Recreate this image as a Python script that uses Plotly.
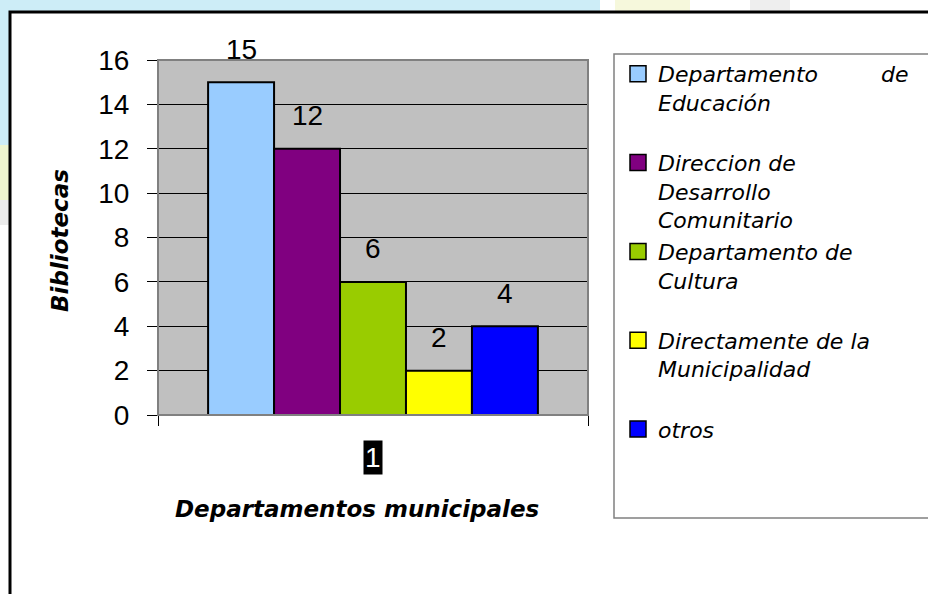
import plotly.graph_objects as go

categories = ["1"]
series_names = [
    "Departamento\u00a0\u00a0\u00a0\u00a0\u00a0\u00a0\u00a0\u00a0\u00a0de<br>Educación<br>\u00a0",
    "Direccion de<br>Desarrollo<br>Comunitario",
    "Departamento de<br>Cultura<br>\u00a0",
    "Directamente de la<br>Municipalidad<br>\u00a0",
    "otros<br>\u00a0<br>\u00a0",
]
series_values = [15, 12, 6, 2, 4]
series_colors = ["#99ccff", "#800080", "#99cc00", "#ffff00", "#0000ff"]
y_ticks = [0, 2, 4, 6, 8, 10, 12, 14, 16]

BARGAP = 0.233
W, H = 928, 594
L, R, T, B = 158, 340, 60, 179
pw, ph = W - L - R, H - T - B

def px_x(p):
    return (p - L) / pw

def px_y(p):
    return (H - B - p) / ph

fig = go.Figure()
for name, val, col in zip(series_names, series_values, series_colors):
    fig.add_trace(go.Bar(
        x=categories, y=[val], name=name, marker_color=col,
        marker_line=dict(color="black", width=2), showlegend=False,
    ))
# legend entries
for name, col in zip(series_names, series_colors):
    fig.add_trace(go.Scatter(
        x=[None], y=[None], mode="markers", name=name,
        marker=dict(symbol="square", size=16, color=col,
                    line=dict(color="black", width=1.5)),
    ))

n = len(series_values)
gw = 1 - BARGAP
annotations = []
for i, val in enumerate(series_values):
    annotations.append(dict(
        x=-gw / 2 + (i + 0.5) * gw / n, y=val, xref="x", yref="y",
        text=str(val), showarrow=False, yshift=33, yanchor="middle",
        font=dict(family="Liberation Sans, Arial", size=28, color="black"),
    ))
# category label with dark highlight
annotations.append(dict(
    x=0, xref="x", y=0, yref="paper", text=categories[0], showarrow=False,
    yshift=-42, yanchor="middle", bgcolor="black", borderpad=1,
    font=dict(family="Liberation Sans, Arial", size=28, color="white"),
))
annotations.append(dict(
    x=px_x(357), y=px_y(509), xref="paper", yref="paper",
    xanchor="center", yanchor="middle",
    text="<b><i>Departamentos municipales</i></b>", showarrow=False,
    font=dict(family="DejaVu Sans", size=23, color="black"),
))
annotations.append(dict(
    x=px_x(60), y=px_y(241), xref="paper", yref="paper", textangle=-90,
    xanchor="center", yanchor="middle",
    text="<b><i>Bibliotecas</i></b>", showarrow=False,
    font=dict(family="DejaVu Sans", size=23, color="black"),
))

shapes = [
    # outer background strips
    dict(type="rect", xref="paper", yref="paper", x0=px_x(0), x1=px_x(600),
         y0=px_y(12), y1=px_y(0), fillcolor="#cdedf7", line_width=0, layer="below"),
    dict(type="rect", xref="paper", yref="paper", x0=px_x(615), x1=px_x(690),
         y0=px_y(12), y1=px_y(0), fillcolor="#f6f8dc", line_width=0, layer="below"),
    dict(type="rect", xref="paper", yref="paper", x0=px_x(750), x1=px_x(790),
         y0=px_y(12), y1=px_y(0), fillcolor="#eeeeee", line_width=0, layer="below"),
    dict(type="rect", xref="paper", yref="paper", x0=px_x(0), x1=px_x(10),
         y0=px_y(145), y1=px_y(0), fillcolor="#cdedf7", line_width=0, layer="below"),
    dict(type="rect", xref="paper", yref="paper", x0=px_x(0), x1=px_x(10),
         y0=px_y(200), y1=px_y(145), fillcolor="#eef5d0", line_width=0, layer="below"),
    dict(type="rect", xref="paper", yref="paper", x0=px_x(0), x1=px_x(10),
         y0=px_y(225), y1=px_y(200), fillcolor="#ececec", line_width=0, layer="below"),
    # outer chart frame
    dict(type="rect", xref="paper", yref="paper", x0=px_x(10), x1=px_x(960),
         y0=px_y(640), y1=px_y(12), line=dict(color="black", width=3)),
    # legend frame
    dict(type="rect", xref="paper", yref="paper", x0=px_x(614), x1=px_x(960),
         y0=px_y(518), y1=px_y(54), line=dict(color="#808080", width=1.5)),
    # plot-area border
    dict(type="rect", xref="paper", yref="paper", x0=0, x1=1, y0=0, y1=1,
         line=dict(color="#808080", width=2)),
]

fig.update_layout(
    width=W, height=H,
    margin=dict(l=L, r=R, t=T, b=B, pad=0, autoexpand=False),
    paper_bgcolor="white", plot_bgcolor="#c0c0c0",
    barmode="group", bargap=BARGAP, bargroupgap=0,
    showlegend=True,
    legend=dict(
        x=px_x(618), y=px_y(53), xanchor="left", yanchor="top",
        bgcolor="rgba(0,0,0,0)", borderwidth=0, valign="top", maxheight=560,
        font=dict(family="DejaVu Sans", size=22, color="black", style="italic"),
        tracegroupgap=0,
    ),
    xaxis=dict(
        type="category", range=[-0.5, 0.5], tickson="boundaries",
        ticks="outside", ticklen=10, tickcolor="black", tickwidth=1,
        showticklabels=False, showgrid=False, showline=False, zeroline=False,
    ),
    yaxis=dict(
        range=[0, 16], tickvals=y_ticks, ticks="outside", ticklen=10,
        tickcolor="black", tickwidth=1, ticklabelstandoff=12,
        showgrid=True, gridcolor="black", gridwidth=1, zeroline=False,
        showline=False,
        tickfont=dict(family="Liberation Sans, Arial", size=28, color="black"),
    ),
    annotations=annotations, shapes=shapes,
)

fig.write_html("out.html", config={"displayModeBar": False},
               post_script="document.body.style.margin='0px';")
